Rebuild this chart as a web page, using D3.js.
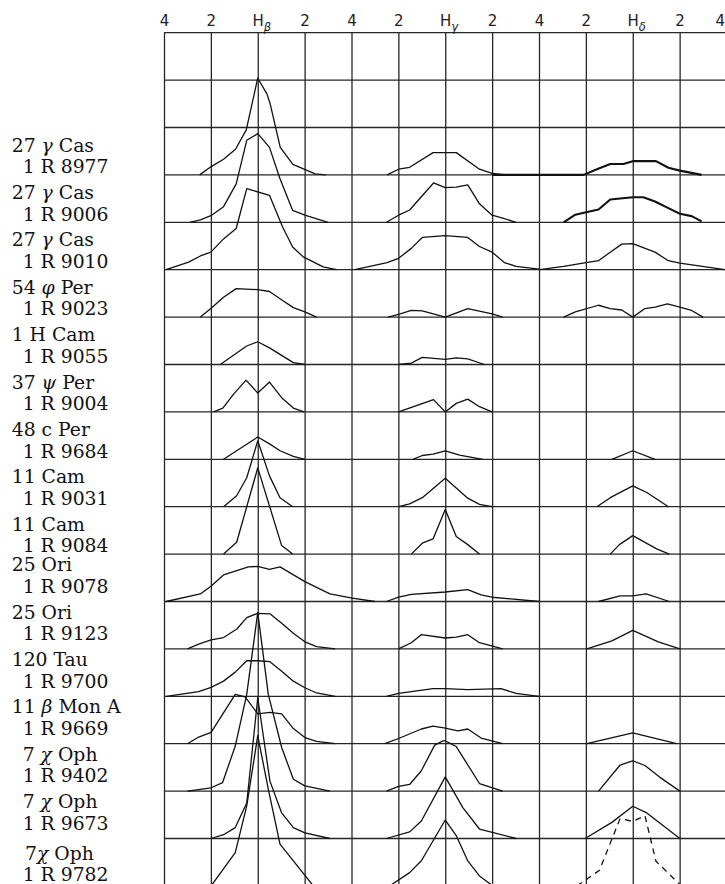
<!DOCTYPE html>
<html>
<head>
<meta charset="utf-8">
<script src="https://cdn.jsdelivr.net/npm/d3@7"></script>
<style>
  body { margin: 0; background: #fff; }
  svg { display: block; }
</style>
</head>
<body>
<script>

// stars and plates, top row to bottom row
var stars = ["27 γ Cas", "27 γ Cas", "27 γ Cas", "54 φ Per", "1 H Cam", "37 ψ Per", "48 c Per",
  "11 Cam", "11 Cam", "25 Ori", "25 Ori", "120 Tau", "11 β Mon A", "7 χ Oph", "7 χ Oph", "7χ Oph"];
var plates = ["1 R 8977", "1 R 9006", "1 R 9010", "1 R 9023", "1 R 9055", "1 R 9004", "1 R 9684",
  "1 R 9031", "1 R 9084", "1 R 9078", "1 R 9123", "1 R 9700", "1 R 9669", "1 R 9402", "1 R 9673", "1 R 9782"];

// wavelength ticks across the top (Angstrom from line centre)
var tickLabels = ["4", "2", "Hβ", "2", "4", "2", "Hγ", "2", "4", "2", "Hδ", "2", "4"];

// emission profiles: [offset from line centre in A, height in grid steps]
var hBeta = [
  [[-2.48,0],[-2.0,0.17],[-1.46,0.33],[-0.95,0.54],[-0.49,0.95],[0,2.04],[0.39,1.71],[0.53,1.5],[0.96,0.58],[1.5,0.22],[2.45,0.02],[2.9,0]],
  [[-2.9,0],[-2.45,0.05],[-2.0,0.14],[-1.46,0.33],[-0.92,0.81],[-0.47,1.73],[0,1.87],[0.5,1.58],[0.95,0.92],[1.49,0.25],[2.01,0.15],[3.0,0]],
  [[-3.91,0],[-2.95,0.16],[-2.45,0.29],[-2.0,0.37],[-1.46,0.65],[-0.92,0.87],[-0.47,1.71],[0.5,1.57],[1.06,0.9],[1.49,0.48],[1.94,0.27],[2.79,0.06],[3.36,0]],
  [[-2.45,0],[-2.0,0.18],[-1.46,0.42],[-0.92,0.6],[0,0.58],[0.5,0.54],[1.06,0.35],[1.52,0.2],[2.01,0.11],[2.51,0]],
  [[-1.6,0],[-0.47,0.39],[0,0.48],[0.5,0.35],[1.52,0.04],[2.01,0]],
  [[-1.89,0],[-1.49,0.08],[-1.04,0.37],[-0.5,0.67],[0,0.4],[0.5,0.63],[1.02,0.3],[1.52,0.08],[1.97,0]],
  [[-1.46,0],[-0.9,0.18],[0,0.47],[0.52,0.32],[0.95,0.18],[1.52,0.06],[2.01,0]],
  [[-1.46,0],[-0.9,0.23],[-0.47,0.61],[0,1.39],[0.5,0.65],[0.95,0.19],[1.49,0]],
  [[-1.46,0],[-0.9,0.25],[0,1.82],[1.02,0.18],[1.49,0]],
  [[-3.91,0],[-2.45,0.16],[-2.0,0.32],[-1.46,0.56],[-0.4,0.73],[0,0.74],[0.5,0.68],[0.95,0.73],[2.01,0.42],[3.08,0.16],[4.03,0.07],[5.0,0]],
  [[-3.0,0],[-2.52,0.1],[-1.99,0.19],[-1.46,0.24],[-0.89,0.42],[-0.47,0.66],[0,0.75],[0.52,0.74],[1.02,0.54],[1.52,0.33],[2.01,0.15],[2.51,0.05],[3.3,0]],
  [[-3.9,0],[-2.52,0.1],[-1.99,0.19],[-1.46,0.32],[-0.96,0.51],[-0.47,0.75],[0,0.75],[0.52,0.73],[1.02,0.53],[1.52,0.32],[2.01,0.18],[2.51,0.07],[3.3,0]],
  [[-3.0,0],[-2.52,0.14],[-1.99,0.24],[-0.96,1.04],[-0.54,0.99],[0,0.63],[0.52,0.66],[1.02,0.63],[1.52,0.32],[2.01,0.13],[2.51,0.05],[3.3,0]],
  [[-3.0,0],[-1.99,0.07],[-1.5,0.18],[-0.96,0.95],[-0.47,2.04],[0,3.77],[0.45,2.04],[1.02,0.92],[1.52,0.25],[2.01,0.11],[3.08,0]],
  [[-1.99,0],[-1.46,0.08],[-0.96,0.23],[-0.47,0.75],[0,2.97],[0.52,1.21],[1.02,0.54],[1.52,0.23],[2.01,0.12],[3.08,0]],
  [[-1.99,0],[-0.96,0.7],[-0.47,1.69],[0,3.17],[0.45,2.04],[0.95,0.88],[2.37,0]]
];

var hGamma = [
  [[-2.48,0],[-1.99,0.12],[-1.52,0.16],[-0.52,0.47],[0.47,0.47],[1.46,0.12],[2.0,0.03],[2.6,0]],
  [[-2.51,0],[-1.99,0.15],[-1.52,0.26],[-0.5,0.83],[0,0.73],[0.47,0.74],[0.96,0.79],[1.46,0.39],[2.0,0.15],[2.45,0.09],[3.02,0]],
  [[-3.86,0],[-2.48,0.15],[-1.99,0.24],[-1.45,0.45],[-0.98,0.68],[0,0.72],[0.96,0.68],[1.46,0.49],[2.0,0.37],[2.52,0.15],[3.02,0.07],[4.01,0.01]],
  [[-2.44,0],[-1.99,0.06],[-1.45,0.14],[-0.98,0.13],[0,0],[0.96,0.18],[2.0,0.07],[2.45,0]],
  [[-1.99,0],[-1.45,0.03],[-0.98,0.15],[0,0.11],[0.47,0.14],[0.96,0.12],[1.67,0]],
  [[-1.99,0],[-0.5,0.26],[0,0],[0.47,0.18],[0.96,0.27],[1.46,0.11],[2.0,0]],
  [[-1.38,0],[-0.98,0.08],[-0.52,0.11],[0,0.18],[0.61,0.09],[1.6,0]],
  [[-1.99,0],[-1.52,0.06],[-0.98,0.19],[0,0.6],[0.96,0.18],[1.46,0.05],[2.0,0]],
  [[-1.45,0],[-0.98,0.23],[-0.52,0.32],[0,0.94],[0.47,0.37],[0.96,0.2],[1.46,0]],
  [[-2.51,0],[-1.99,0.09],[-1.45,0.15],[0,0.2],[0.96,0.25],[1.53,0.14],[2.0,0.09],[4.01,0]],
  [[-1.99,0],[-1.45,0.13],[-1.02,0.3],[0,0.23],[0.47,0.25],[0.96,0.3],[1.46,0.13],[2.45,0]],
  [[-2.51,0],[-1.99,0.06],[-0.52,0.16],[0,0.16],[0.96,0.14],[2.38,0.16],[3.02,0.06],[4.0,0]],
  [[-2.58,0],[-1.99,0.11],[-1.02,0.31],[-0.52,0.37],[0,0.33],[0.54,0.27],[0.96,0.31],[1.53,0.12],[2.45,0]],
  [[-2.51,0],[-1.99,0.1],[-1.52,0.14],[-1.02,0.43],[-0.45,0.97],[-0.1,1.06],[0,1.06],[0.47,0.94],[1.46,0.16],[2.45,0]],
  [[-2.51,0],[-1.52,0.14],[-1.02,0.37],[0,1.3],[0.75,0.65],[1.46,0.2],[3.02,0]],
  [[-2.37,0],[-1.52,0.28],[-1.02,0.53],[0,1.39],[0.47,1.06],[0.96,0.53],[1.46,0.21],[2.03,0]]
];

var hDelta = [
  [[-6.0,0],[-2.1,0],[-1.53,0.12],[-0.96,0.23],[-0.4,0.23],[0,0.29],[0.99,0.29],[1.52,0.15],[2.01,0.09],[2.94,0]],
  [[-2.95,0],[-2.45,0.16],[-1.99,0.21],[-1.46,0.27],[-0.96,0.48],[0,0.53],[0.45,0.53],[0.95,0.44],[1.52,0.3],[2.01,0.18],[2.51,0.13],[2.94,0.02]],
  [[-3.97,0],[-2.95,0.07],[-1.99,0.15],[-1.46,0.19],[-0.96,0.37],[-0.47,0.54],[0,0.55],[0.95,0.37],[1.52,0.19],[2.01,0.14],[3.93,0]],
  [[-2.95,0],[-2.45,0.11],[-1.46,0.25],[-0.96,0.18],[-0.47,0.15],[0,0],[0.52,0.18],[0.95,0.21],[1.48,0.28],[2.01,0.21],[2.51,0.14],[3.0,0]],
  null,
  null,
  [[-0.89,0],[0,0.18],[0.95,0]],
  [[-1.53,0],[-0.96,0.19],[0,0.44],[0.6,0.3],[1.52,0]],
  [[-0.96,0],[-0.57,0.2],[0,0.39],[1.02,0.11],[1.56,0]],
  [[-1.46,0],[-0.54,0.12],[0,0.12],[0.57,0.16],[1.56,0]],
  [[-1.96,0],[-0.89,0.17],[0,0.39],[1.09,0.15],[2.01,0]],
  null,
  [[-1.96,0],[0,0.23],[1.87,0]],
  [[-1.46,0],[-0.54,0.55],[0,0.64],[0.52,0.54],[1.16,0.29],[2.01,0]],
  [[-2.03,0],[-0.89,0.34],[0,0.68],[0.6,0.54],[2.01,0]],
  [[-2.38,0],[-1.42,0.33],[-0.54,1.42],[0,1.36],[0.52,1.48],[0.99,0.52],[2.01,0.03]]
];

var w = 725;
var h = 884;

var svg = d3.select("body")
            .append("svg")
            .attr("width", w)
            .attr("height", h);

// one continuous wavelength axis, 2 A per grid step, three lines side by side
var x = d3.scaleLinear().domain([0, 24]).range([164, 726.5]);
// vertical: one unit = one grid row
var y = d3.scaleLinear().domain([0, 18]).range([32.7, 32.7 + 47.4 * 18]);
var centres = [4, 12, 20];
var firstRow = 3;

// vertical grid lines + top labels
var axis = d3.axisTop(x)
  .tickValues(d3.range(0, 25, 2))
  .tickSize(-(y(18) - y(0) + 6))
  .tickPadding(6.3)
  .tickFormat(function(d, i) { return tickLabels[i]; });

var gx = svg.append("g")
  .attr("transform", "translate(0," + y(0) + ")")
  .call(axis);
gx.select(".domain").remove();
gx.selectAll(".tick line").attr("stroke", "#262626").attr("stroke-width", 1.3);
gx.selectAll(".tick text")
  .attr("fill", "#222")
  .attr("font-family", "'DejaVu Sans', sans-serif")
  .attr("font-size", 15)
  .each(function(d, i) {
    var lab = tickLabels[i];
    if (lab.charAt(0) === "H") {
      var t = d3.select(this).text("H").attr("text-anchor", "start").attr("x", -5.7);
      t.append("tspan")
        .attr("dy", 4.8)
        .attr("font-size", 11.5)
        .attr("font-style", "italic")
        .text(lab.slice(1));
    }
    // last label sits at the right edge of the page
    if (i === tickLabels.length - 1) d3.select(this).attr("text-anchor", "end").attr("x", -2);
  });

// horizontal grid lines
svg.append("g").selectAll("line")
  .data(d3.range(0, 19))
  .enter()
  .append("line")
  .attr("x1", x(0))
  .attr("x2", x(24) + 4)
  .attr("y1", function(d) { return y(d); })
  .attr("y2", function(d) { return y(d); })
  .attr("stroke", "#262626")
  .attr("stroke-width", 1.3);

// profiles
var series = [hBeta, hGamma, hDelta];
var gp = svg.append("g").attr("fill", "none").attr("stroke", "#111").attr("stroke-linejoin", "round");

series.forEach(function(s, li) {
  s.forEach(function(pts, r) {
    if (!pts) return;
    var line = d3.line()
      .x(function(p) { return x(centres[li] + p[0]); })
      .y(function(p) { return y(firstRow + r - p[1]); });
    var path = gp.append("path")
      .attr("d", line(pts))
      .attr("stroke-width", 1.3);
    // the two heavy Hdelta tracings and the dashed one at the bottom
    if (li === 2 && r < 2) path.attr("stroke-width", 2.1);
    if (li === 2 && r === 15) path.attr("stroke-dasharray", "6,5");
  });
});

// star / plate labels on the left
function labelShift(r) {
  if (r < 9) return -1.8;
  if (r < 15) return -8.8;
  return -4.5;
}

function addText(sel, str) {
  // greek letters set in italic
  var parts = str.split(/([α-ωϕ])/);
  parts.forEach(function(p) {
    if (p === "") return;
    var t = sel.append("tspan").text(p);
    if (/[α-ωϕ]/.test(p)) t.attr("font-style", "italic");
  });
}

var gl = svg.append("g")
  .attr("font-family", "'DejaVu Serif', serif")
  .attr("font-size", 18.8)
  .attr("fill", "#111");

stars.forEach(function(name, r) {
  var base = y(firstRow + r) + labelShift(r);
  var indent = r >= 13 ? (r === 15 ? 25 : 22.7) : 11.7;
  var t1 = gl.append("text").attr("x", indent).attr("y", base - 21.5).attr("xml:space", "preserve");
  addText(t1, name);
  gl.append("text").attr("x", 22.7).attr("y", base).text(plates[r]);
});

</script>
</body>
</html>
